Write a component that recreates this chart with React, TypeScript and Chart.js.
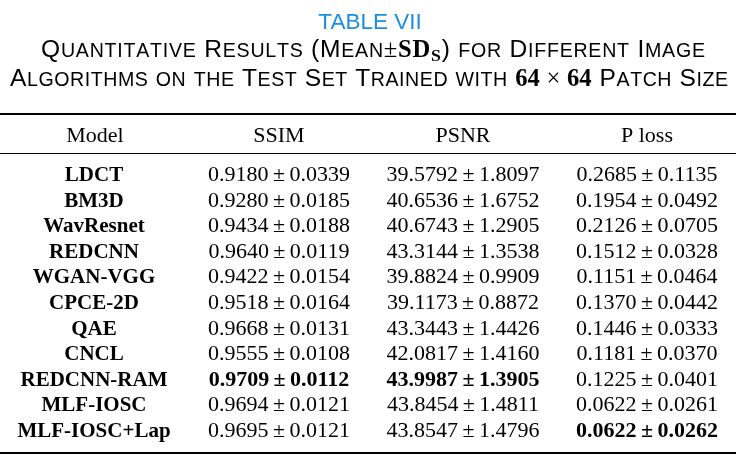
import React, { useEffect, useRef } from "react";
import { Chart, registerables } from "chart.js";

Chart.register(...registerables);

const columns = ["Model", "SSIM", "PSNR", "P loss"];
const models = [
  "LDCT", "BM3D", "WavResnet", "REDCNN", "WGAN-VGG", "CPCE-2D",
  "QAE", "CNCL", "REDCNN-RAM", "MLF-IOSC", "MLF-IOSC+Lap",
];
const ssimMean = [0.9180, 0.9280, 0.9434, 0.9640, 0.9422, 0.9518, 0.9668, 0.9555, 0.9709, 0.9694, 0.9695];
const ssimSd = [0.0339, 0.0185, 0.0188, 0.0119, 0.0154, 0.0164, 0.0131, 0.0108, 0.0112, 0.0121, 0.0121];
const psnrMean = [39.5792, 40.6536, 40.6743, 43.3144, 39.8824, 39.1173, 43.3443, 42.0817, 43.9987, 43.8454, 43.8547];
const psnrSd = [1.8097, 1.6752, 1.2905, 1.3538, 0.9909, 0.8872, 1.4426, 1.4160, 1.3905, 1.4811, 1.4796];
const plossMean = [0.2685, 0.1954, 0.2126, 0.1512, 0.1151, 0.1370, 0.1446, 0.1181, 0.1225, 0.0622, 0.0622];
const plossSd = [0.1135, 0.0492, 0.0705, 0.0328, 0.0464, 0.0442, 0.0333, 0.0370, 0.0401, 0.0261, 0.0262];
// index of the bold (best) row for each column; -1 = none
const bestRow = [-1, 8, 8, 10];

const tableNumber = "TABLE VII";
const captionLine1 = "Quantitative Results (Mean±SDs) for Different Image";
const captionLine2 = "Algorithms on the Test Set Trained with 64 × 64 Patch Size";

const SANS = '"Liberation Sans", Arial, Helvetica, sans-serif';
const SERIF = '"Liberation Serif", "Times New Roman", Times, serif';
const BIG = 24.6;
const SMALL = 19.6;
const CELL = 22;
const MODEL = 21;

type Run = { t: string; f: string; dy?: number };

function smallCapsRuns(text: string): Run[] {
  const runs: Run[] = [];
  const words = text.split(" ");
  words.forEach((w, wi) => {
    if (wi > 0) runs.push({ t: " ", f: `${BIG}px ${SANS}` });
    for (let i = 0; i < w.length; i++) {
      const ch = w[i];
      const upper = ch === ch.toUpperCase() && ch !== ch.toLowerCase();
      if (upper || !/[a-z]/i.test(ch)) runs.push({ t: ch.toUpperCase(), f: `${BIG}px ${SANS}` });
      else runs.push({ t: ch.toUpperCase(), f: `${SMALL}px ${SANS}` });
    }
  });
  return runs;
}

function line1Runs(): Run[] {
  const [pre, rest] = captionLine1.split("(");
  const [inner, post] = rest.split(")");
  const [meanWord] = inner.split("±");
  const runs: Run[] = [];
  runs.push(...smallCapsRuns(pre));
  runs.push({ t: "(", f: `${BIG}px ${SANS}` });
  runs.push(...smallCapsRuns(meanWord));
  runs.push({ t: "±", f: `${BIG}px ${SERIF}` });
  runs.push({ t: "S", f: `bold ${BIG}px ${SERIF}` });
  runs.push({ t: "D", f: `bold ${BIG}px ${SERIF}` });
  runs.push({ t: "S", f: `bold ${BIG * 0.72}px ${SERIF}`, dy: 4 });
  runs.push({ t: ")", f: `${BIG}px ${SANS}` });
  runs.push(...smallCapsRuns(post));
  return runs;
}

function line2Runs(): Run[] {
  const idx = captionLine2.indexOf("64");
  const pre = captionLine2.slice(0, idx);
  const post = captionLine2.slice(idx + "64 × 64".length);
  const runs: Run[] = [];
  runs.push(...smallCapsRuns(pre));
  runs.push({ t: "64", f: `bold ${BIG}px ${SERIF}` });
  runs.push({ t: " × ", f: `${BIG}px ${SERIF}` });
  runs.push({ t: "64", f: `bold ${BIG}px ${SERIF}` });
  runs.push(...smallCapsRuns(post));
  return runs;
}

function drawRuns(ctx: CanvasRenderingContext2D, runs: Run[], x0: number, x1: number, y: number) {
  let total = 0;
  const widths = runs.map((r) => {
    ctx.font = r.f;
    const w = ctx.measureText(r.t).width;
    total += w;
    return w;
  });
  const extra = (x1 - x0 - total) / Math.max(1, runs.length - 1);
  let x = x0;
  ctx.textAlign = "left";
  ctx.textBaseline = "alphabetic";
  runs.forEach((r, i) => {
    ctx.font = r.f;
    ctx.fillText(r.t, x, y + (r.dy || 0));
    x += widths[i] + extra;
  });
}

function drawPm(ctx: CanvasRenderingContext2D, a: string, b: string, cx: number, y: number, bold: boolean) {
  const f = `${bold ? "bold " : ""}${CELL}px ${SERIF}`;
  ctx.font = f;
  const gap = 4.4;
  const wa = ctx.measureText(a).width;
  const wp = ctx.measureText("±").width;
  const wb = ctx.measureText(b).width;
  const total = wa + wp + wb + 2 * gap;
  let x = cx - total / 2;
  ctx.textAlign = "left";
  ctx.fillText(a, x, y);
  x += wa + gap;
  ctx.fillText("±", x, y);
  x += wp + gap;
  ctx.fillText(b, x, y);
}

const tablePlugin = {
  id: "tablePlugin",
  afterDraw(chart: any) {
    const ctx: CanvasRenderingContext2D = chart.ctx;
    const xs = chart.scales.x;
    const ys = chart.scales.y;
    const area = chart.chartArea;
    ctx.save();

    // caption
    ctx.fillStyle = "#1b8ee0";
    ctx.font = `22.5px ${SANS}`;
    ctx.textAlign = "center";
    ctx.textBaseline = "alphabetic";
    ctx.fillText(tableNumber, 370, 28.5);
    ctx.fillStyle = "#000";
    drawRuns(ctx, line1Runs(), 41, 705, 57);
    drawRuns(ctx, line2Runs(), 10, 728, 86);

    const left = area.left - 3;
    const right = area.right - 3;
    const row0 = ys.getPixelForValue(0);
    const rowLast = ys.getPixelForValue(models.length - 1);
    const capOff = 7.5;

    // rules
    ctx.strokeStyle = "#000";
    ctx.lineWidth = 2;
    ctx.beginPath();
    ctx.moveTo(left, row0 - 59.5);
    ctx.lineTo(right, row0 - 59.5);
    ctx.stroke();
    ctx.lineWidth = 1;
    ctx.beginPath();
    ctx.moveTo(left, row0 - 20);
    ctx.lineTo(right, row0 - 20);
    ctx.stroke();
    ctx.lineWidth = 2;
    ctx.beginPath();
    ctx.moveTo(left, rowLast + 23.5);
    ctx.lineTo(right, rowLast + 23.5);
    ctx.stroke();

    // header
    ctx.fillStyle = "#000";
    ctx.font = `${CELL}px ${SERIF}`;
    ctx.textAlign = "center";
    columns.forEach((c, ci) => {
      ctx.fillText(c, xs.getPixelForValue(ci), row0 - 39.5 + capOff);
    });

    // body
    const means = [ssimMean, psnrMean, plossMean];
    const sds = [ssimSd, psnrSd, plossSd];
    models.forEach((m, ri) => {
      const y = ys.getPixelForValue(ri) + capOff;
      ctx.font = `bold ${MODEL}px ${SERIF}`;
      ctx.textAlign = "center";
      ctx.fillText(m, xs.getPixelForValue(0) - 1, y);
      for (let k = 0; k < 3; k++) {
        const ci = k + 1;
        drawPm(ctx, means[k][ri].toFixed(4), sds[k][ri].toFixed(4), xs.getPixelForValue(ci), y, bestRow[ci] === ri);
      }
    });
    ctx.restore();
  },
};

export default function App() {
  const ref = useRef<HTMLCanvasElement | null>(null);
  useEffect(() => {
    document.body.style.margin = "0";
    const cells: { x: string; y: string }[] = [];
    models.forEach((m) => columns.forEach((c) => cells.push({ x: c, y: m })));
    const chart = new Chart(ref.current as HTMLCanvasElement, {
      type: "scatter",
      data: {
        datasets: [{ data: cells as any, pointRadius: 0, pointHoverRadius: 0 }],
      },
      options: {
        animation: false,
        responsive: false,
        events: [],
        layout: { padding: { left: 3, right: 5, top: 160.7, bottom: 33.7 } },
        plugins: { legend: { display: false }, tooltip: { enabled: false }, title: { display: false } },
        scales: {
          x: { type: "category", labels: columns, offset: true, display: false },
          y: { type: "category", labels: models, offset: true, display: false },
        },
      },
      plugins: [tablePlugin],
    });
    return () => chart.destroy();
  }, []);
  return (
    <div style={{ position: "absolute", left: 0, top: 0, width: 744, height: 476, background: "#fff" }}>
      <canvas ref={ref} width={744} height={476} style={{ display: "block" }} />
    </div>
  );
}
